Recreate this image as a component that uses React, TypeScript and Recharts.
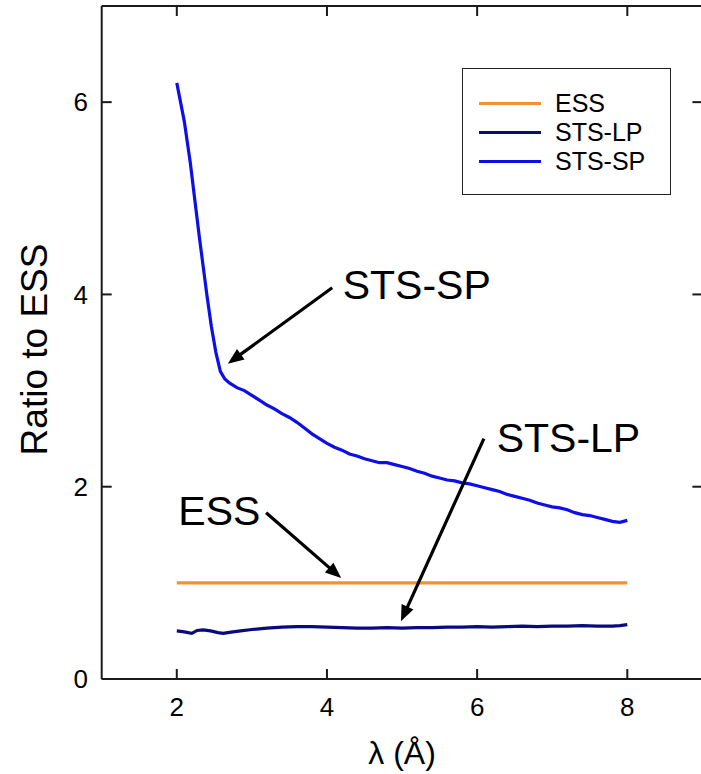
import React from 'react';
import { LineChart, Line, XAxis, YAxis, Legend, ReferenceLine, ReferenceDot } from 'recharts';

const essData = [
  { x: 2.0, y: 1.0 },
  { x: 8.0, y: 1.0 },
];

const stsLpData = [
  { x: 2.0, y: 0.5 }, { x: 2.1, y: 0.49 }, { x: 2.2, y: 0.475 }, { x: 2.27, y: 0.505 },
  { x: 2.35, y: 0.51 }, { x: 2.45, y: 0.5 }, { x: 2.55, y: 0.482 }, { x: 2.62, y: 0.475 },
  { x: 2.7, y: 0.485 }, { x: 2.85, y: 0.5 }, { x: 3.0, y: 0.515 }, { x: 3.2, y: 0.53 },
  { x: 3.4, y: 0.54 }, { x: 3.6, y: 0.545 }, { x: 3.8, y: 0.545 }, { x: 4.0, y: 0.54 },
  { x: 4.2, y: 0.535 }, { x: 4.4, y: 0.53 }, { x: 4.6, y: 0.53 }, { x: 4.8, y: 0.535 },
  { x: 5.0, y: 0.53 }, { x: 5.2, y: 0.535 }, { x: 5.4, y: 0.535 }, { x: 5.6, y: 0.54 },
  { x: 5.8, y: 0.54 }, { x: 6.0, y: 0.545 }, { x: 6.2, y: 0.54 }, { x: 6.4, y: 0.545 },
  { x: 6.6, y: 0.55 }, { x: 6.8, y: 0.545 }, { x: 7.0, y: 0.55 }, { x: 7.2, y: 0.55 },
  { x: 7.4, y: 0.555 }, { x: 7.6, y: 0.55 }, { x: 7.8, y: 0.55 }, { x: 7.9, y: 0.555 },
  { x: 8.0, y: 0.565 },
];

const stsSpData = [
  { x: 2.0, y: 6.2 }, { x: 2.1, y: 5.8 }, { x: 2.18, y: 5.37 }, { x: 2.25, y: 4.92 },
  { x: 2.3, y: 4.6 }, { x: 2.35, y: 4.3 }, { x: 2.4, y: 4.0 }, { x: 2.46, y: 3.67 },
  { x: 2.52, y: 3.4 }, { x: 2.58, y: 3.2 }, { x: 2.64, y: 3.12 }, { x: 2.7, y: 3.08 },
  { x: 2.8, y: 3.03 }, { x: 2.9, y: 3.0 }, { x: 3.0, y: 2.95 }, { x: 3.1, y: 2.9 },
  { x: 3.2, y: 2.85 }, { x: 3.3, y: 2.81 }, { x: 3.4, y: 2.76 }, { x: 3.5, y: 2.72 },
  { x: 3.6, y: 2.67 }, { x: 3.7, y: 2.61 }, { x: 3.8, y: 2.55 }, { x: 3.9, y: 2.5 },
  { x: 4.0, y: 2.45 }, { x: 4.1, y: 2.41 }, { x: 4.2, y: 2.38 }, { x: 4.3, y: 2.34 },
  { x: 4.4, y: 2.32 }, { x: 4.5, y: 2.29 }, { x: 4.6, y: 2.27 }, { x: 4.7, y: 2.25 },
  { x: 4.8, y: 2.25 }, { x: 4.9, y: 2.23 }, { x: 5.0, y: 2.21 }, { x: 5.1, y: 2.19 },
  { x: 5.2, y: 2.16 }, { x: 5.3, y: 2.14 }, { x: 5.4, y: 2.11 }, { x: 5.5, y: 2.09 },
  { x: 5.6, y: 2.07 }, { x: 5.7, y: 2.06 }, { x: 5.8, y: 2.04 }, { x: 5.9, y: 2.03 },
  { x: 6.0, y: 2.01 }, { x: 6.1, y: 1.99 }, { x: 6.2, y: 1.97 }, { x: 6.3, y: 1.95 },
  { x: 6.4, y: 1.92 }, { x: 6.5, y: 1.9 }, { x: 6.6, y: 1.88 }, { x: 6.7, y: 1.86 },
  { x: 6.8, y: 1.83 }, { x: 6.9, y: 1.81 }, { x: 7.0, y: 1.79 }, { x: 7.1, y: 1.78 },
  { x: 7.2, y: 1.76 }, { x: 7.3, y: 1.73 }, { x: 7.4, y: 1.71 }, { x: 7.5, y: 1.7 },
  { x: 7.6, y: 1.68 }, { x: 7.7, y: 1.66 }, { x: 7.8, y: 1.64 }, { x: 7.9, y: 1.63 },
  { x: 8.0, y: 1.65 },
];

const xTicks = [2, 4, 6, 8];
const yTicks = [0, 2, 4, 6];
const xDomain = [1, 9];
const yDomain = [0, 7];

const seriesNames = ['ESS', 'STS-LP', 'STS-SP'];
const seriesColors = ['#EE9332', '#0A0A80', '#0E0EE6'];

const annotationTexts = [
  { text: 'STS-SP', x: 4.21, y: 3.95 },
  { text: 'STS-LP', x: 6.26, y: 2.36 },
  { text: 'ESS', x: 2.02, y: 1.6 },
];

const annotationArrows = [
  [{ x: 4.07, y: 4.07 }, { x: 2.68, y: 3.28 }],
  [{ x: 6.09, y: 2.5 }, { x: 4.985, y: 0.6 }],
  [{ x: 3.19, y: 1.73 }, { x: 4.19, y: 1.05 }],
];

const FONT = 'Liberation Sans, Arial, sans-serif';
const AXIS_COLOR = '#1a1a1a';
const TICK_LEN = 10;
const TICK_W = 2;
const BOTTOM_MARGIN = 19;
const LEFT_MARGIN = 13.7;
const CHART_W = 703;
const CHART_H = 774;
const MARGIN = { top: 6, right: 0.6, left: 0, bottom: 0 };
const Y_AXIS_W = 101.7;
const X_AXIS_H = 95;
const PLOT_TOP = MARGIN.top;
const PLOT_RIGHT = CHART_W - MARGIN.right;

const BottomTick = (props: any) => {
  const { x, y, payload } = props;
  const axisY = y - BOTTOM_MARGIN;
  return (
    <g>
      <rect x={x - TICK_W / 2} y={axisY - TICK_LEN} width={TICK_W} height={TICK_LEN} fill={AXIS_COLOR} />
      <rect x={x - TICK_W / 2} y={PLOT_TOP} width={TICK_W} height={TICK_LEN} fill={AXIS_COLOR} />
      <text x={x} y={y} dy="0.71em" textAnchor="middle" fontSize={26} fontFamily={FONT} fill="#000">
        {payload.value}
      </text>
    </g>
  );
};

const LeftTick = (props: any) => {
  const { x, y, payload } = props;
  const axisX = x + LEFT_MARGIN;
  return (
    <g>
      <rect x={axisX} y={y - TICK_W / 2} width={TICK_LEN} height={TICK_W} fill={AXIS_COLOR} />
      {payload.value !== 0 && (
        <rect x={PLOT_RIGHT - TICK_LEN} y={y - TICK_W / 2} width={TICK_LEN} height={TICK_W} fill={AXIS_COLOR} />
      )}
      <text x={x} y={y} dy="0.355em" textAnchor="end" fontSize={26} fontFamily={FONT} fill="#000">
        {payload.value}
      </text>
    </g>
  );
};

const ArrowShape = (props: any) => {
  const { x1, y1, x2, y2 } = props;
  const dx = x2 - x1;
  const dy = y2 - y1;
  const len = Math.sqrt(dx * dx + dy * dy) || 1;
  const ux = dx / len;
  const uy = dy / len;
  const headLen = 16;
  const headHalf = 6.5;
  const bx = x2 - ux * headLen;
  const by = y2 - uy * headLen;
  const px = -uy;
  const py = ux;
  return (
    <g>
      <line x1={x1} y1={y1} x2={bx + ux * 2} y2={by + uy * 2} stroke="#000" strokeWidth={3.2} />
      <polygon
        points={`${x2},${y2} ${bx + px * headHalf},${by + py * headHalf} ${bx - px * headHalf},${by - py * headHalf}`}
        fill="#000"
      />
    </g>
  );
};

const makeTextShape = (text: string) => (props: any) => (
  <text x={props.cx} y={props.cy} fontSize={41} fontFamily={FONT} fill="#000">
    {text}
  </text>
);

const LegendContent = (props: any) => {
  const payload = props.payload || [];
  return (
    <div
      style={{
        width: 209,
        height: 127,
        boxSizing: 'border-box',
        border: '1.6px solid #222',
        background: '#fff',
        position: 'relative',
        fontFamily: FONT,
      }}
    >
      {payload.map((entry: any, i: number) => (
        <div
          key={entry.value}
          style={{
            position: 'absolute',
            left: 16,
            top: 34 + i * 29 - 15,
            height: 30,
            display: 'flex',
            alignItems: 'center',
          }}
        >
          <div style={{ width: 62, height: 3, background: entry.color }} />
          <span style={{ marginLeft: 14, fontSize: 25, color: '#000', lineHeight: '30px' }}>{entry.value}</span>
        </div>
      ))}
    </div>
  );
};

export default function App() {
  return (
    <div style={{ position: 'absolute', left: 0, top: 0, width: 701, height: 774, overflow: 'hidden', background: '#fff' }}>
      <LineChart width={CHART_W} height={CHART_H} margin={MARGIN}>
        <XAxis
          dataKey="x"
          type="number"
          domain={xDomain}
          ticks={xTicks}
          height={X_AXIS_H}
          stroke={AXIS_COLOR}
          strokeWidth={2}
          tickLine={false}
          tickSize={0}
          tickMargin={BOTTOM_MARGIN}
          tick={BottomTick}
          label={{ value: 'λ (Å)', position: 'center', dy: 26, fontSize: 32, fontFamily: FONT, fill: '#000' }}
          allowDataOverflow
        />
        <YAxis
          type="number"
          domain={yDomain}
          ticks={yTicks}
          width={Y_AXIS_W}
          stroke={AXIS_COLOR}
          strokeWidth={2}
          tickLine={false}
          tickSize={0}
          tickMargin={LEFT_MARGIN}
          tick={LeftTick}
          label={{ value: 'Ratio to ESS', angle: -90, position: 'center', dx: -17, dy: 7, fontSize: 37, fontFamily: FONT, fill: '#000' }}
          allowDataOverflow
        />
        <ReferenceLine y={yDomain[1]} stroke={AXIS_COLOR} strokeWidth={2} ifOverflow="visible" />
        <ReferenceLine x={xDomain[1]} stroke={AXIS_COLOR} strokeWidth={2} ifOverflow="visible" />
        <Legend
          layout="horizontal"
          verticalAlign="middle"
          align="center"
          content={<LegendContent />}
          wrapperStyle={{ position: 'absolute', left: 462, top: 68, width: 209, height: 127 }}
        />
        <Line
          data={essData}
          dataKey="y"
          name={seriesNames[0]}
          stroke={seriesColors[0]}
          strokeWidth={3.2}
          dot={false}
          isAnimationActive={false}
        />
        <Line
          data={stsLpData}
          dataKey="y"
          name={seriesNames[1]}
          stroke={seriesColors[1]}
          strokeWidth={3.2}
          dot={false}
          isAnimationActive={false}
        />
        <Line
          data={stsSpData}
          dataKey="y"
          name={seriesNames[2]}
          stroke={seriesColors[2]}
          strokeWidth={3.2}
          dot={false}
          isAnimationActive={false}
        />
        {annotationArrows.map((seg, i) => (
          <ReferenceLine key={`arrow-${i}`} segment={seg} shape={ArrowShape} ifOverflow="visible" />
        ))}
        {annotationTexts.map((a) => (
          <ReferenceDot key={a.text} x={a.x} y={a.y} r={0} shape={makeTextShape(a.text)} ifOverflow="visible" />
        ))}
      </LineChart>
    </div>
  );
}
